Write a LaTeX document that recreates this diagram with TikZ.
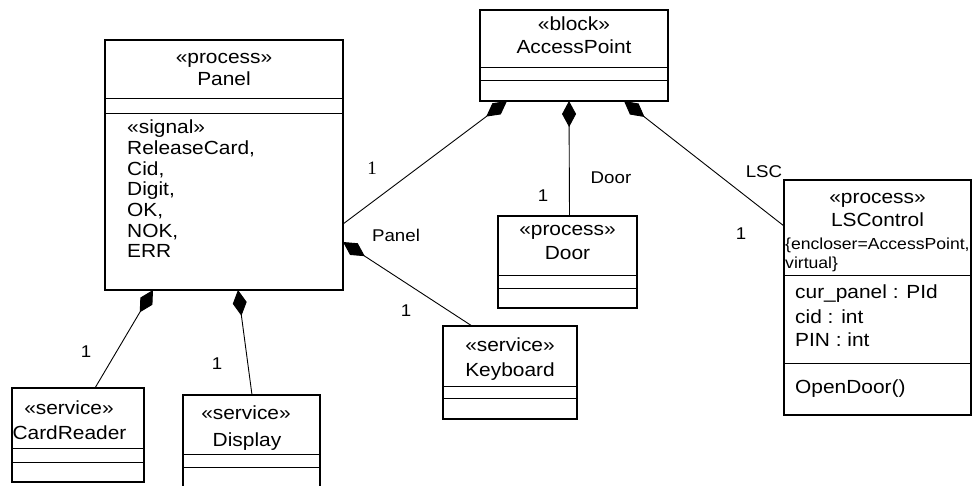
\documentclass[tikz,border=0pt]{standalone}
\usepackage{fontspec}
\setmainfont{Liberation Sans}[FakeStretch=1.1]
\newfontfamily\labelserif{Liberation Serif}
\usetikzlibrary{arrows.meta,calc}
\newcommand\boxfont{\fontsize{19pt}{20.6pt}\selectfont}
\newcommand\tagfont{\fontsize{16pt}{19pt}\selectfont}
\newcommand\rolefont{\fontsize{17pt}{19pt}\selectfont}

\begin{document}
\begin{tikzpicture}[x=1pt,y=-1pt,
  umlbox/.style={draw, line width=1.3pt, inner sep=0pt, outer sep=0pt, rectangle},
  compline/.style={line width=1pt},
  txt/.style={inner sep=0pt, anchor=base, font=\boxfont},
  txtl/.style={txt, anchor=base west},
  tagtxt/.style={inner sep=0pt, anchor=base west, font=\tagfont},
  lbl/.style={inner sep=0pt, anchor=base, font=\rolefont},
  comp/.style={line width=0.9pt, arrows={Diamond[length=26pt,width=14pt]-}}]
\useasboundingbox (0,0) rectangle (973,486);

% class boxes
\node[umlbox, minimum width=238pt, minimum height=250pt] (panel) at (224,165) {};
\node[umlbox, minimum width=188pt, minimum height=91pt]  (ap)    at (574,55.5) {};
\node[umlbox, minimum width=139pt, minimum height=92pt]  (door)  at (567.5,262) {};
\node[umlbox, minimum width=187pt, minimum height=235pt] (ls)    at (877.5,297.5) {};
\node[umlbox, minimum width=134pt, minimum height=93pt]  (kb)    at (510,372.5) {};
\node[umlbox, minimum width=132pt, minimum height=94pt]  (cr)    at (78,435) {};
\node[umlbox, minimum width=137pt, minimum height=97pt]  (disp)  at (251.5,443.5) {};

% compartment separators
\foreach \b/\a/\c in {panel/59/74, ap/58/71, door/59/72, ls/95/183, kb/60/72, cr/60/74, disp/59/72}{
  \draw[compline] ($(\b.north west)+(0,\a)$) -- ($(\b.north east)+(0,\a)$);
  \draw[compline] ($(\b.north west)+(0,\c)$) -- ($(\b.north east)+(0,\c)$);
}

% Panel
\node[txt] (panelst) at (224,64) {«process»};
\node[txt] (panelnm) at (224,86) {Panel};
\node[txtl] (sig1) at (127,134)   {«signal»};
\node[txtl] (sig2) at (127,154.6) {ReleaseCard,};
\node[txtl] (sig3) at (127,175.2) {Cid,};
\node[txtl] (sig4) at (127,195.8) {Digit,};
\node[txtl] (sig5) at (127,216.4) {OK,};
\node[txtl] (sig6) at (127,237)   {NOK,};
\node[txtl] (sig7) at (127,257.6) {ERR};

% AccessPoint
\node[txt] (apst) at (574,31) {«block»};
\node[txt] (apnm) at (574,54) {AccessPoint};

% Door
\node[txt] (doorst) at (567.5,236) {«process»};
\node[txt] (doornm) at (567.5,259) {Door};

% LSControl
\node[txt] (lsst) at (877.5,204) {«process»};
\node[txt] (lsnm) at (877.5,226) {LSControl};
\node[tagtxt] (lstag1) at (785,249) {\{encloser=AccessPoint,};
\node[tagtxt] (lstag2) at (785,268) {virtual\}};
\node[txtl] (lsat1) at (795,298) {cur\_panel : PId};
\node[txtl] (lsat2) at (795,323) {cid : int};
\node[txtl] (lsat3) at (795,346) {PIN : int};
\node[txtl] (lsop1) at (795,393) {OpenDoor()};

% Keyboard
\node[txt] (kbst) at (510,351) {«service»};
\node[txt] (kbnm) at (510,376) {Keyboard};

% CardReader
\node[txt] (crst) at (69,414) {«service»};
\node[txt] (crnm) at (69.5,439) {CardReader};

% Display
\node[txt] (dispst) at (246,419) {«service»};
\node[txt] (dispnm) at (247,446) {Display};

% composition associations
\draw[comp] ($(ap.south west)+(27,0)$) -- ($(panel.north east)+(0,184)$);
\draw[comp] ($(ap.south west)+(89,0)$) -- ($(door.north west)+(71.5,0)$);
\draw[comp] ($(ap.south west)+(144,0)$) -- ($(ls.north west)+(0,46)$);
\draw[comp] ($(panel.north east)+(0,202)$) -- ($(kb.north west)+(29,0)$);
\draw[comp] ($(panel.south west)+(48,0)$) -- ($(cr.north west)+(83,0)$);
\draw[comp] ($(panel.south west)+(133,0)$) -- ($(disp.north west)+(69,0)$);

% role names and multiplicities
\node[lbl, font=\fontsize{19pt}{20pt}\selectfont\labelserif] (m1) at (372,175) {1};
\node[lbl] (rpanel) at (396,241) {Panel};
\node[lbl] (m2) at (406,316) {1};
\node[lbl] (m3) at (543,202) {1};
\node[lbl] (rdoor) at (611,184) {Door};
\node[lbl] (rlsc) at (764,178) {LSC};
\node[lbl] (m4) at (741,239) {1};
\node[lbl] (m5) at (86,357) {1};
\node[lbl] (m6) at (217,369) {1};
\end{tikzpicture}
\end{document}
